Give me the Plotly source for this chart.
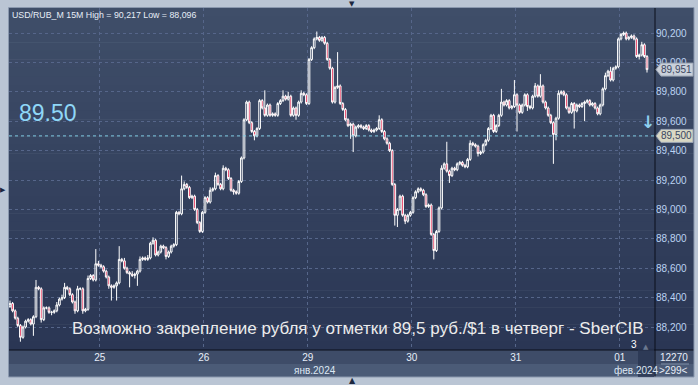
import plotly.graph_objects as go

# ---------------- data ----------------
day_labels = ["25", "26", "29", "30", "31", "01"]
day_start_idx = [35, 75, 115, 155, 195, 235]
month_labels = ["янв.2024", "фев.2024"]
y_ticks = [88.2, 88.4, 88.6, 88.8, 89.0, 89.2, 89.4, 89.6, 89.8, 90.0, 90.2]
y_tick_text = ["88,200", "88,400", "88,600", "88,800", "89,000", "89,200",
               "89,400", "89,600", "89,800", "90,000", "90,200"]
first_open = 88.34
last_price = 89.951
level_price = 89.50

close_24 = [88.36, 88.31, 88.26, 88.21, 88.13, 88.20, 88.24, 88.25, 88.22, 88.27,
            88.47, 88.46, 88.25, 88.33, 88.33, 88.30, 88.30, 88.31, 88.35, 88.39,
            88.40, 88.47, 88.46, 88.42, 88.37, 88.31, 88.46, 88.46, 88.31, 88.32,
            88.53, 88.55, 88.52, 88.63, 88.62]
close_25 = [88.61, 88.58, 88.54, 88.48, 88.47, 88.48, 88.50, 88.66, 88.65, 88.60,
            88.57, 88.56, 88.55, 88.56, 88.58, 88.66, 88.67, 88.66, 88.67, 88.77,
            88.79, 88.69, 88.71, 88.75, 88.74, 88.68, 88.71, 88.75, 88.76, 88.98,
            88.97, 89.14, 89.17, 89.15, 89.08, 89.09, 89.00, 88.91, 88.85, 88.98]
close_26 = [89.08, 89.05, 89.13, 89.14, 89.23, 89.17, 89.14, 89.28, 89.27, 89.21,
            89.13, 89.12, 89.11, 89.19, 89.35, 89.61, 89.73, 89.59, 89.53, 89.50,
            89.55, 89.74, 89.69, 89.64, 89.71, 89.64, 89.65, 89.64, 89.72, 89.74,
            89.77, 89.75, 89.77, 89.64, 89.69, 89.64, 89.73, 89.79, 89.78, 89.72]
close_29 = [90.02, 90.10, 90.16, 90.17, 90.15, 90.17, 90.13, 90.02, 89.96, 89.73,
            89.83, 89.84, 89.72, 89.68, 89.61, 89.57, 89.58, 89.50, 89.56, 89.57,
            89.56, 89.55, 89.57, 89.54, 89.53, 89.54, 89.55, 89.61, 89.53, 89.48,
            89.45, 89.40, 89.17, 88.96, 89.00, 89.09, 88.96, 88.92, 88.96, 88.98]
close_30 = [89.08, 89.12, 89.14, 89.13, 89.10, 89.02, 89.03, 88.83, 88.72, 88.85,
            89.01, 89.28, 89.31, 89.26, 89.23, 89.28, 89.27, 89.31, 89.32, 89.30,
            89.29, 89.34, 89.45, 89.44, 89.43, 89.38, 89.39, 89.44, 89.47, 89.55,
            89.64, 89.53, 89.57, 89.64, 89.73, 89.71, 89.74, 89.69, 89.70, 89.78]
close_31 = [89.71, 89.66, 89.71, 89.78, 89.70, 89.69, 89.77, 89.84, 89.77, 89.84,
            89.73, 89.69, 89.64, 89.59, 89.51, 89.62, 89.79, 89.80, 89.78, 89.69,
            89.66, 89.72, 89.67, 89.71, 89.70, 89.72, 89.73, 89.74, 89.71, 89.72,
            89.69, 89.65, 89.71, 89.82, 89.91, 89.94, 89.88, 89.96, 89.97, 90.16]
close_f1 = [90.19, 90.20, 90.16, 90.17, 90.18, 90.16, 90.04, 90.05, 90.12, 90.04, 89.951]

# upper / lower wick lengths beyond the candle body
uw_24 = [.02, .01, .01, .01, .01, .01, .01, .01, .01, .01, .05, .01, .01, .01, .01, .01, .01, .01,
         .02, .01, .02, .03, .01, .01, .01, .01, .02, .01, .01, .01, .02, .01, .01, .10, .02]
lw_24 = [.01, .01, .01, .01, .03, .01, .01, .01, .01, .08, .01, .01, .02, .01, .01, .01, .02, .01,
         .01, .01, .01, .01, .01, .01, .01, .02, .01, .01, .02, .01, .01, .01, .01, .01, .01]
uw_25 = [.01, .01, .01, .01, .01, .01, .01, .09, .01, .02, .01, .01, .02, .01, .01, .02, .01, .01, .02, .01,
         .02, .01, .01, .01, .01, .01, .01, .01, .01, .01, .01, .09, .02, .01, .01, .01, .01, .01, .01, .01]
lw_25 = [.01, .01, .01, .02, .09, .01, .10, .01, .01, .01, .01, .09, .01, .02, .08, .01, .01, .01, .01, .01,
         .01, .01, .01, .01, .01, .02, .01, .01, .01, .01, .01, .01, .01, .01, .01, .01, .01, .01, .01, .01]
uw_26 = [.01, .01, .02, .01, .02, .01, .01, .02, .01, .01, .01, .01, .01, .01, .01, .01, .01, .01, .01, .01,
         .01, .01, .01, .12, .01, .01, .01, .01, .01, .01, .04, .01, .03, .01, .01, .01, .01, .02, .01, .01]
lw_26 = [.01, .01, .01, .01, .01, .01, .01, .01, .01, .01, .01, .02, .01, .01, .01, .01, .01, .01, .01, .03,
         .01, .01, .01, .01, .01, .01, .01, .01, .01, .01, .01, .01, .01, .01, .01, .03, .01, .01, .01, .01]
uw_29 = [.01, .01, .01, .04, .01, .01, .01, .01, .01, .01, .01, .23, .01, .01, .01, .01, .01, .01, .01, .01,
         .01, .01, .01, .01, .01, .01, .01, .03, .01, .01, .01, .01, .01, .01, .01, .01, .01, .01, .01, .01]
lw_29 = [.01, .01, .01, .01, .01, .01, .01, .01, .01, .01, .01, .01, .01, .01, .01, .01, .09, .11, .01, .01,
         .01, .01, .01, .01, .01, .01, .01, .01, .01, .01, .01, .01, .01, .07, .08, .01, .01, .02, .01, .01]
uw_30 = [.01, .01, .01, .01, .01, .01, .01, .01, .01, .01, .01, .02, .01, .15, .01, .01, .01, .01, .01, .01,
         .01, .01, .02, .01, .01, .01, .01, .01, .01, .01, .01, .01, .01, .01, .09, .01, .01, .01, .01, .10]
lw_30 = [.01, .01, .01, .01, .01, .01, .01, .01, .06, .01, .01, .01, .01, .01, .05, .01, .01, .01, .01, .01,
         .01, .01, .01, .01, .01, .02, .01, .01, .01, .01, .01, .01, .01, .01, .01, .01, .01, .01, .01, .01]
uw_31 = [.01, .01, .01, .01, .01, .01, .01, .02, .01, .08, .01, .01, .01, .01, .01, .01, .02, .01, .01, .01,
         .01, .01, .01, .01, .01, .01, .01, .01, .01, .01, .01, .01, .01, .01, .02, .01, .03, .01, .01, .01]
lw_31 = [.18, .01, .01, .01, .03, .01, .01, .01, .01, .01, .01, .01, .01, .01, .20, .04, .01, .01, .01, .01,
         .01, .01, .12, .01, .01, .01, .12, .01, .01, .01, .01, .01, .01, .01, .01, .01, .01, .01, .01, .01]
uw_f1 = [.01, .01, .01, .01, .01, .01, .01, .01, .02, .01, .01]
lw_f1 = [.01, .01, .01, .01, .01, .01, .01, .02, .01, .01, .02]

closes = close_24 + close_25 + close_26 + close_29 + close_30 + close_31 + close_f1
uw = uw_24 + uw_25 + uw_26 + uw_29 + uw_30 + uw_31 + uw_f1
lw = lw_24 + lw_25 + lw_26 + lw_29 + lw_30 + lw_31 + lw_f1
opens = [first_open] + closes[:-1]
highs = [max(o, c) + u for o, c, u in zip(opens, closes, uw)]
lows = [min(o, c) - d for o, c, d in zip(opens, closes, lw)]
xs = list(range(len(closes)))

# ---------------- layout geometry (pixels) ----------------
W, H = 698, 385
L, R, T, B = 9, 655, 8, 350


def px(x):
    return (x - L) / (R - L)


def py(y):
    return (B - y) / (B - T)


x_per_px = 1 / 2.6
x_lo = (L - 10) * x_per_px
x_hi = (R - 10) * x_per_px
y_lo = 90.2 - (B - 33) / 147.0
y_hi = 90.2 + (33 - T) / 147.0

fig = go.Figure()
fig.add_trace(go.Candlestick(
    x=xs, open=opens, high=highs, low=lows, close=closes,
    increasing=dict(line=dict(color="#ffffff", width=1), fillcolor="rgba(0,0,0,0)"),
    decreasing=dict(line=dict(color="#ffffff", width=1), fillcolor="#e3123f"),
    whiskerwidth=0, hoverinfo="skip", showlegend=False,
))

shapes = []
# gradient background (plot + price axis)
n_bands = 40
top_c = (63, 78, 105)
bot_c = (42, 54, 84)
for k in range(n_bands):
    f = k / (n_bands - 1)
    col = tuple(round(top_c[j] + (bot_c[j] - top_c[j]) * f) for j in range(3))
    y0 = T + (B - T) * k / n_bands
    y1 = T + (B - T) * (k + 1) / n_bands + 0.5
    shapes.append(dict(type="rect", xref="paper", yref="paper", layer="below",
                       x0=px(L), x1=px(694), y0=py(y1), y1=py(y0),
                       fillcolor="rgb(%d,%d,%d)" % col, line=dict(width=0)))
# time axis bands
shapes.append(dict(type="rect", xref="paper", yref="paper", layer="below",
                   x0=px(L), x1=px(694), y0=py(364), y1=py(B),
                   fillcolor="#3e4c68", line=dict(width=0)))
shapes.append(dict(type="rect", xref="paper", yref="paper", layer="below",
                   x0=px(L), x1=px(694), y0=py(377), y1=py(364),
                   fillcolor="#4b5b77", line=dict(width=0)))
# frame lines
shapes.append(dict(type="line", xref="paper", yref="paper", x0=px(L), x1=px(694),
                   y0=py(B), y1=py(B), line=dict(color="#0a0f1a", width=1)))
shapes.append(dict(type="line", xref="paper", yref="paper", x0=px(R), x1=px(R),
                   y0=py(T), y1=py(377), line=dict(color="#0a0f1a", width=1)))
shapes.append(dict(type="rect", xref="paper", yref="paper", x0=px(8.5), x1=px(694),
                   y0=py(377), y1=py(7.5), line=dict(color="#8a98ae", width=1)))
# 89.50 level line
shapes.append(dict(type="line", xref="paper", yref="y", x0=0, x1=1,
                   y0=level_price, y1=level_price,
                   line=dict(color="#7fcbe4", width=1, dash="dot")))


# price tags on the axis
def tag(y_pix, fill):
    x0, x1, h = 656, 693, 6.5
    path = "M %f %f L %f %f L %f %f L %f %f L %f %f L %f %f Z" % (
        px(x0), py(y_pix), px(x0 + 5), py(y_pix - h), px(x1), py(y_pix - h),
        px(x1), py(y_pix + h), px(x0 + 5), py(y_pix + h), px(x0), py(y_pix))
    return dict(type="path", xref="paper", yref="paper", path=path,
                fillcolor=fill, line=dict(color="#9aa4b4", width=1))


y951 = 33 + (90.2 - last_price) * 147
y500 = 33 + (90.2 - level_price) * 147
shapes.append(tag(y951, "#c9d0da"))
shapes.append(tag(y500, "#d9d8c4"))
# dim scroll box at bottom right of time axis
shapes.append(dict(type="rect", xref="paper", yref="paper", x0=px(638), x1=px(654),
                   y0=py(377), y1=py(348), fillcolor="rgba(40,52,80,0.75)",
                   line=dict(width=0)))
# separator line bottom-right
shapes.append(dict(type="line", xref="paper", yref="paper", x0=px(661), x1=px(689),
                   y0=py(364), y1=py(364), line=dict(color="#8090a8", width=1)))


def note(text, x, y, size, color, anchor="center", family="Arial"):
    return dict(text=text, x=px(x), y=py(y), xref="paper", yref="paper",
                xanchor=anchor, yanchor="middle", showarrow=False,
                font=dict(family=family, size=size, color=color))


ann = [
    note("USD/RUB_M 15M High = 90,217 Low = 88,096", 10, 15, 8.8, "#e6edf7", "left"),
    note("89.50", 17, 113, 23, "#8fd7f7", "left"),
    note("Возможно закрепление рубля у отметки 89,5 руб./$1 в четверг - SberCIB",
         358, 328, 17, "#ececec"),
    note(f"{last_price:.3f}".replace(".", ","), 676, y951, 10, "#3a4660"),
    note(f"{level_price:.3f}".replace(".", ","), 676, y500, 10, "#3a4660"),
    note("<b>↓</b>", 648, 122, 17, "#8fd0f0", family="DejaVu Sans"),
    note(month_labels[0], 315, 370.5, 10, "#dde7f3"),
    note(month_labels[1], 636, 370.5, 10, "#dde7f3"),
    note("12270", 674, 357.5, 10, "#e8eef8"),
    note("&gt;299&lt;", 674, 370.5, 10, "#e8eef8"),
    note("3", 634, 344, 10, "#ffffff"),
    note("▲", 646, 347, 7, "#6a7890", family="DejaVu Sans"),
    note("▼", 352, 4, 7, "#1c2740", family="DejaVu Sans"),
    note("▲", 352, 381, 8, "#1c2740", family="DejaVu Sans"),
    note("▶", 3, 190, 7, "#1c2740", family="DejaVu Sans"),
]

fig.update_layout(
    width=W, height=H,
    margin=dict(l=L, r=W - R, t=T, b=H - B, pad=0),
    paper_bgcolor="#bac5d4",
    plot_bgcolor="rgba(0,0,0,0)",
    shapes=shapes, annotations=ann,
    boxgap=0.08,
    xaxis=dict(range=[x_lo, x_hi], rangeslider=dict(visible=False),
               tickmode="array", tickvals=[i - 0.5 for i in day_start_idx], ticktext=day_labels,
               showgrid=True, gridcolor="#56668a", griddash="dot", gridwidth=1,
               zeroline=False, showline=False, ticks="",
               tickfont=dict(family="Arial", size=10, color="#e6eef8")),
    yaxis=dict(range=[y_lo, y_hi], side="right", tickmode="array",
               tickvals=y_ticks, ticktext=y_tick_text,
               showgrid=True, gridcolor="#56668a", griddash="dot", gridwidth=1,
               zeroline=False, showline=False, ticks="",
               tickfont=dict(family="Arial", size=10, color="#bcd3f2")),
)

fig.write_html("out.html")
